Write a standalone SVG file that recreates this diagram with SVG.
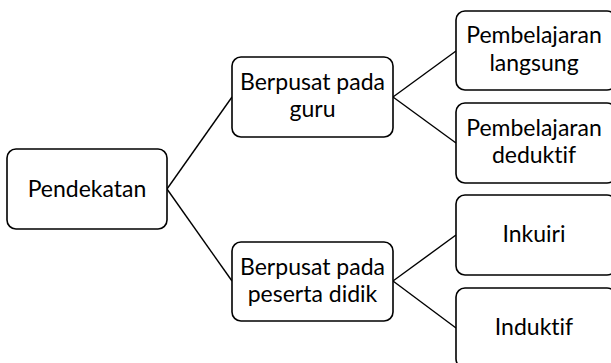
<svg xmlns="http://www.w3.org/2000/svg" width="611" height="363" viewBox="0 0 611 363">
<style>
.box{fill:#fff;stroke:#000;stroke-width:1.6}
.t{font-family:Lato,"Open Sans",sans-serif;font-size:23px;fill:#000;text-anchor:middle;font-variant-ligatures:none}
.c{stroke:#000;stroke-width:1.4;fill:none}
</style>
<rect width="611" height="363" fill="#fff"/>
<g id="connectors">
<line class="c" x1="167" y1="189" x2="232" y2="97"/>
<line class="c" x1="167" y1="189" x2="232" y2="281"/>
<line class="c" x1="393" y1="97" x2="456" y2="51"/>
<line class="c" x1="393" y1="97" x2="456" y2="143"/>
<line class="c" x1="393" y1="281" x2="456" y2="235"/>
<line class="c" x1="393" y1="281" x2="456" y2="328"/>
</g>
<g id="pendekatan">
<rect class="box" x="7" y="149" width="160" height="80" rx="9"/>
<text class="t" x="87" y="197">Pendekatan</text>
</g>
<g id="guru">
<rect class="box" x="232" y="57" width="161" height="80" rx="9"/>
<text class="t" x="312.5" y="90">Berpusat pada</text>
<text class="t" x="312.5" y="117">guru</text>
</g>
<g id="peserta">
<rect class="box" x="232" y="242" width="161" height="79" rx="9"/>
<text class="t" x="312.5" y="275">Berpusat pada</text>
<text class="t" x="312.5" y="302">peserta didik</text>
</g>
<g id="langsung">
<rect class="box" x="456" y="11" width="160" height="79" rx="9"/>
<text class="t" x="534" y="43">Pembelajaran</text>
<text class="t" x="534" y="71">langsung</text>
</g>
<g id="deduktif">
<rect class="box" x="456" y="103" width="160" height="80" rx="9"/>
<text class="t" x="534" y="136">Pembelajaran</text>
<text class="t" x="534" y="163">deduktif</text>
</g>
<g id="inkuiri">
<rect class="box" x="456" y="195" width="160" height="80" rx="9"/>
<text class="t" x="534" y="242">Inkuiri</text>
</g>
<g id="induktif">
<rect class="box" x="456" y="288" width="160" height="80" rx="9"/>
<text class="t" x="534" y="335">Induktif</text>
</g>
</svg>
